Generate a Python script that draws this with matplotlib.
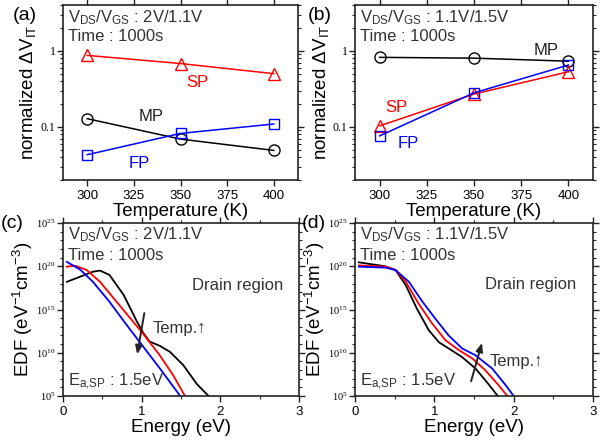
import numpy as np
import matplotlib.pyplot as plt
from matplotlib.ticker import FixedLocator, NullFormatter, MultipleLocator, LogLocator

plt.rcParams['font.family'] = ['Liberation Sans', 'DejaVu Sans']
plt.rcParams['mathtext.default'] = 'regular'

# temperatures (K)
temps = [300, 350, 400]
# (a) VDS/VGS = 2V/1.1V, normalized dVIT
a_sp = [0.87, 0.68, 0.50]
a_mp = [0.128, 0.069, 0.049]
a_fp = [0.043, 0.082, 0.109]
# (b) VDS/VGS = 1.1V/1.5V
b_sp = [0.103, 0.27, 0.53]
b_mp = [0.82, 0.80, 0.73]
b_fp = [0.076, 0.28, 0.65]

# (c) EDF curves, energy (eV) and log10(EDF)
c_blue_e = [0.05, 0.22, 0.38, 0.59, 0.81, 1.02, 1.23, 1.49]
c_blue_l = [20.5, 19.6, 18.2, 15.9, 13.2, 10.7, 8.2, 5.0]
c_red_e = [0.05, 0.15, 0.30, 0.47, 0.68, 0.89, 1.00, 1.23, 1.40, 1.55]
c_red_l = [19.95, 20.07, 19.57, 18.2, 15.9, 13.6, 12.4, 9.7, 7.4, 5.0]
c_blk_e = [0.05, 0.22, 0.38, 0.47, 0.59, 0.77, 0.94, 1.02, 1.10, 1.23, 1.36, 1.53, 1.70, 1.85]
c_blk_l = [18.2, 18.8, 19.37, 19.5, 19.0, 16.7, 13.6, 12.3, 11.3, 10.8, 10.1, 8.56, 6.4, 5.0]

# (d) EDF curves
d_blue_e = [0.05, 0.38, 0.51, 0.68, 0.85, 1.01, 1.18, 1.35, 1.52, 1.73, 1.90, 2.0]
d_blue_l = [19.95, 19.84, 19.57, 18.2, 15.9, 13.97, 12.0, 10.5, 9.7, 8.17, 6.24, 5.0]
d_red_e = [0.05, 0.38, 0.51, 0.64, 0.80, 0.97, 1.14, 1.31, 1.48, 1.64, 1.81, 1.92]
d_red_l = [20.1, 19.95, 19.57, 18.2, 15.7, 13.4, 11.45, 10.3, 9.33, 8.0, 6.24, 5.0]
d_blk_e = [0.05, 0.38, 0.51, 0.64, 0.78, 0.93, 1.06, 1.18, 1.35, 1.52, 1.68, 1.80]
d_blk_l = [20.45, 20.0, 19.57, 17.8, 15.1, 12.6, 11.2, 10.5, 9.5, 8.17, 6.4, 5.0]

W, H = 600, 441
fig = plt.figure(figsize=(6, 4.41), dpi=100)

def box(left, top, right, bottom):
    return [left / W, (H - bottom) / H, (right - left) / W, (bottom - top) / H]

ax_a = fig.add_axes(box(63, 5, 298, 180))
ax_b = fig.add_axes(box(355, 5, 593, 180))
ax_c = fig.add_axes(box(63, 223, 299, 396))
ax_d = fig.add_axes(box(355, 223, 593, 396))

def style(ax):
    for s in ax.spines.values():
        s.set_linewidth(1.2)
        s.set_color('#222222')
    ax.tick_params(which='both', direction='out', top=True, right=True, color='#222222')
    ax.tick_params(which='major', length=4, width=1)
    ax.tick_params(which='minor', length=2, width=0.8)
    ax.tick_params(axis='x', labelsize=9.5, pad=3)
    ax.tick_params(axis='y', pad=1.5)

mk = dict(mfc='none', mew=1, lw=1.1)
txt = '#333333'

# --- top panels ---
for ax, sp, mp, fp, cond, lx in [(ax_a, a_sp, a_mp, a_fp, '2V/1.1V', -0.105),
                                 (ax_b, b_sp, b_mp, b_fp, '1.1V/1.5V', -0.1)]:
    ax.plot(temps, mp, color='black', marker='o', ms=8, **mk)
    ax.plot(temps, sp, color='red', marker='^', ms=9, **mk)
    ax.plot(temps, fp, color='blue', marker='s', ms=7.5, **mk)
    ax.set_yscale('log')
    ax.set_ylim(0.02, 4)
    ax.set_xlim(287, 413)
    ax.set_xticks([300, 325, 350, 375, 400])
    ax.yaxis.set_major_locator(FixedLocator([0.1, 1]))
    ax.set_yticklabels(['0.1', '1'], family='Liberation Serif', fontsize=8.5)
    ax.yaxis.set_minor_locator(LogLocator(base=10, subs=np.arange(2, 10)))
    ax.yaxis.set_minor_formatter(NullFormatter())
    ax.set_xlabel('Temperature (K)', fontsize=13.5, labelpad=1)
    ax.set_ylabel(r'normalized $\Delta$V$_{IT}$', fontsize=13.5)
    ax.yaxis.set_label_coords(lx, 0.5)
    ax.text(0.02, 0.93, 'V$_{DS}$/V$_{GS}$ : ' + cond, transform=ax.transAxes,
            fontsize=12, va='center', color=txt)
    ax.text(0.02, 0.82, 'Time : 1000s', transform=ax.transAxes,
            fontsize=12, va='center', color=txt)
    style(ax)

ax_a.text(359, 0.38, 'SP', color='red', fontsize=12, ha='center', va='center')
ax_a.text(334, 0.136, 'MP', color='#222222', fontsize=12, ha='center', va='center')
ax_a.text(328, 0.033, 'FP', color='blue', fontsize=12, ha='center', va='center')
ax_b.text(388, 1.0, 'MP', color='#222222', fontsize=12, ha='center', va='center')
ax_b.text(309, 0.18, 'SP', color='red', fontsize=12, ha='center', va='center')
ax_b.text(315, 0.061, 'FP', color='blue', fontsize=12, ha='center', va='center')

# --- bottom panels ---
for ax, curves, cond, lx in [
        (ax_c, [(c_blk_e, c_blk_l, 'black'), (c_red_e, c_red_l, 'red'), (c_blue_e, c_blue_l, 'blue')], '2V/1.1V', -0.118),
        (ax_d, [(d_blk_e, d_blk_l, 'black'), (d_red_e, d_red_l, 'red'), (d_blue_e, d_blue_l, 'blue')], '1.1V/1.5V', -0.118)]:
    for e, l, c in curves:
        ax.plot(e, 10 ** np.array(l), color=c, lw=1.3)
    ax.set_yscale('log')
    ax.set_ylim(1e5, 1e25)
    ax.set_xlim(0, 3)
    ax.xaxis.set_major_locator(MultipleLocator(1))
    ax.xaxis.set_minor_locator(MultipleLocator(0.5))
    ax.yaxis.set_major_locator(FixedLocator([1e5, 1e10, 1e15, 1e20, 1e25]))
    ax.yaxis.set_minor_locator(FixedLocator([10.0 ** k for k in range(5, 26)]))
    ax.yaxis.set_minor_formatter(NullFormatter())
    ax.set_yticklabels(['$10^{%d}$' % k for k in [5, 10, 15, 20, 25]],
                       family='Liberation Serif', fontsize=7.5)
    ax.set_xlabel('Energy (eV)', fontsize=13.5, labelpad=1)
    ax.set_ylabel('EDF (eV$^{-1}$cm$^{-3}$)', fontsize=13.5)
    ax.yaxis.set_label_coords(lx, 0.5)
    ax.text(0.02, 0.93, 'V$_{DS}$/V$_{GS}$ : ' + cond, transform=ax.transAxes,
            fontsize=12, va='center', color=txt)
    ax.text(0.02, 0.815, 'Time : 1000s', transform=ax.transAxes,
            fontsize=12, va='center', color=txt)
    ax.text(0.02, 0.08, 'E$_{a{,}SP}$ : 1.5eV', transform=ax.transAxes,
            fontsize=12, va='center', color=txt)
    style(ax)

ax_c.text(1.64, 10 ** 17.8, 'Drain region', fontsize=12, va='center', color=txt)
ax_d.text(1.64, 10 ** 17.9, 'Drain region', fontsize=12, va='center', color=txt)
ax_c.text(1.14, 10 ** 12.8, 'Temp.\u2191', fontsize=12, va='center', color=txt)
ax_d.text(1.70, 10 ** 8.94, 'Temp.\u2191', fontsize=12, va='center', color=txt)

arrow = dict(arrowstyle='-|>,head_length=0.5,head_width=0.2', color='#222222', lw=1.4)
ax_c.annotate('', xy=(0.937, 10 ** 9.5), xytext=(1.04, 10 ** 14.9), arrowprops=arrow)
ax_d.annotate('', xy=(1.61, 10 ** 11.45), xytext=(1.454, 10 ** 6.4), arrowprops=arrow)

# panel letters
fig.text(25 / W, 1 - 15 / H, '(a)', fontsize=14, ha='center', va='center')
fig.text(320 / W, 1 - 15 / H, '(b)', fontsize=14, ha='center', va='center')
fig.text(12 / W, 1 - 224 / H, '(c)', fontsize=14, ha='center', va='center')
fig.text(314 / W, 1 - 223 / H, '(d)', fontsize=14, ha='center', va='center')

plt.savefig('out.png', dpi=100)
